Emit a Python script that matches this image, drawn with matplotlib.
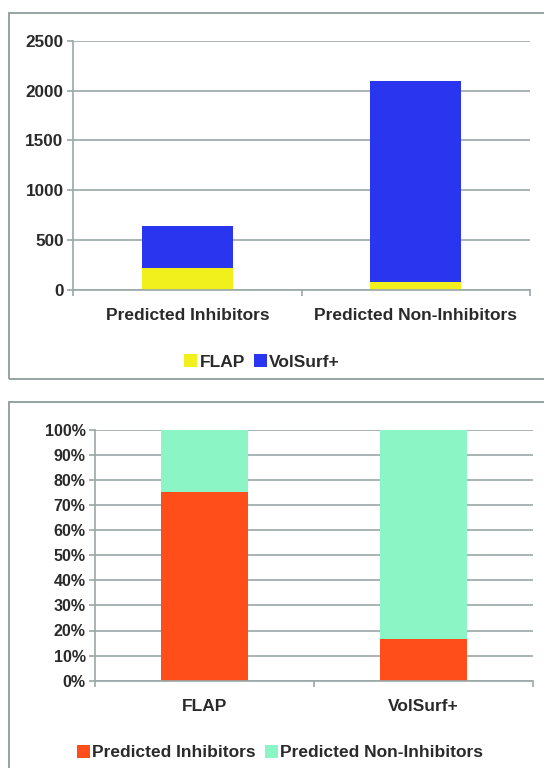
import matplotlib
matplotlib.use("Agg")
import matplotlib.pyplot as plt
from matplotlib.patches import Rectangle
from matplotlib.ticker import FixedLocator, PercentFormatter
import numpy as np

plt.rcParams['font.family'] = ['Liberation Sans', 'DejaVu Sans']
plt.rcParams['font.weight'] = 'bold'

# ---- data ----
top_categories = ["Predicted Inhibitors", "Predicted Non-Inhibitors"]
flap_counts = [217, 80]
volsurf_counts = [426, 2020]
top_yticks = [0, 500, 1000, 1500, 2000, 2500]

bottom_categories = ["FLAP", "VolSurf+"]
pct_inhibitors = [75.3, 16.6]
pct_non_inhibitors = [24.7, 83.4]
bottom_yticks = [0, 10, 20, 30, 40, 50, 60, 70, 80, 90, 100]

# ---- style ----
C_YELLOW = "#F2F01C"
C_BLUE = "#2A35F0"
C_RED = "#FF4E1A"
C_MINT = "#8CF5C6"
C_GRID = "#9AA8A8"
C_FRAME = "#8E9C9C"
C_TEXT = "#2A2A2A"

W, H = 544, 768
fig = plt.figure(figsize=(W / 100, H / 100), dpi=100)
fig.patch.set_facecolor("white")

# panel frames
fig.patches.append(Rectangle((8.7 / W, 1 - 378.7 / H), (560 - 8.7) / W, (378.7 - 13.3) / H,
                             transform=fig.transFigure, fill=False, ec=C_FRAME, lw=1.3))
fig.patches.append(Rectangle((8.7 / W, -0.05), (560 - 8.7) / W, (1 - 402 / H) + 0.05,
                             transform=fig.transFigure, fill=False, ec=C_FRAME, lw=1.3))


def style_axes(ax, n, ytick_size, xlab_size):
    for s in ["top", "right"]:
        ax.spines[s].set_visible(False)
    for s in ["left", "bottom"]:
        ax.spines[s].set_color(C_GRID)
        ax.spines[s].set_linewidth(1.2)
    ax.yaxis.grid(True, color=C_GRID, lw=1.2)
    ax.set_axisbelow(True)
    ax.set_xlim(-0.5, n - 0.5)
    ax.xaxis.set_major_locator(FixedLocator(np.arange(-0.5, n, 1.0)))
    ax.xaxis.set_minor_locator(FixedLocator(np.arange(n)))
    ax.tick_params(axis="x", which="major", length=4, color=C_GRID, width=1.2, labelbottom=False)
    ax.tick_params(axis="x", which="minor", length=0, labelsize=xlab_size, labelcolor=C_TEXT, pad=13)
    ax.tick_params(axis="y", length=4, color=C_GRID, width=1.2, labelsize=ytick_size,
                   labelcolor=C_TEXT, pad=3)


# ---- top chart ----
ax1 = fig.add_axes([73.3 / W, 1 - 290 / H, (530 - 73.3) / W, (290 - 40.7) / H])
x1 = np.arange(len(top_categories))
ax1.bar(x1, flap_counts, width=0.4, color=C_YELLOW, label="FLAP")
ax1.bar(x1, volsurf_counts, width=0.4, bottom=flap_counts, color=C_BLUE, label="VolSurf+")
ax1.set_ylim(0, 2500)
ax1.set_yticks(top_yticks)
style_axes(ax1, len(top_categories), 12.3, 12.5)
ax1.set_xticks(x1, top_categories, minor=True)
leg1 = ax1.legend(loc="center", bbox_to_anchor=(262 / W, 1 - 362 / H), bbox_transform=fig.transFigure,
                  ncol=2, frameon=False, fontsize=12.5, handlelength=0.75, handleheight=0.75,
                  handletextpad=0.15, columnspacing=0.5, borderpad=0)
for t in leg1.get_texts():
    t.set_color(C_TEXT)

# ---- bottom chart ----
ax2 = fig.add_axes([95.3 / W, 1 - 680.7 / H, (533 - 95.3) / W, (680.7 - 429.7) / H])
x2 = np.arange(len(bottom_categories))
ax2.bar(x2, pct_inhibitors, width=0.4, color=C_RED, label="Predicted Inhibitors")
ax2.bar(x2, pct_non_inhibitors, width=0.4, bottom=pct_inhibitors, color=C_MINT,
        label="Predicted Non-Inhibitors")
ax2.set_ylim(0, 100)
ax2.set_yticks(bottom_yticks)
ax2.yaxis.set_major_formatter(PercentFormatter(decimals=0))
style_axes(ax2, len(bottom_categories), 11.5, 12.5)
ax2.set_xticks(x2, bottom_categories, minor=True)
leg2 = ax2.legend(loc="center", bbox_to_anchor=(280 / W, 1 - 752.5 / H), bbox_transform=fig.transFigure,
                  ncol=2, frameon=False, fontsize=12.5, handlelength=0.75, handleheight=0.75,
                  handletextpad=0.15, columnspacing=0.5, borderpad=0)
for t in leg2.get_texts():
    t.set_color(C_TEXT)

fig.savefig("out.png", dpi=100, facecolor="white")
